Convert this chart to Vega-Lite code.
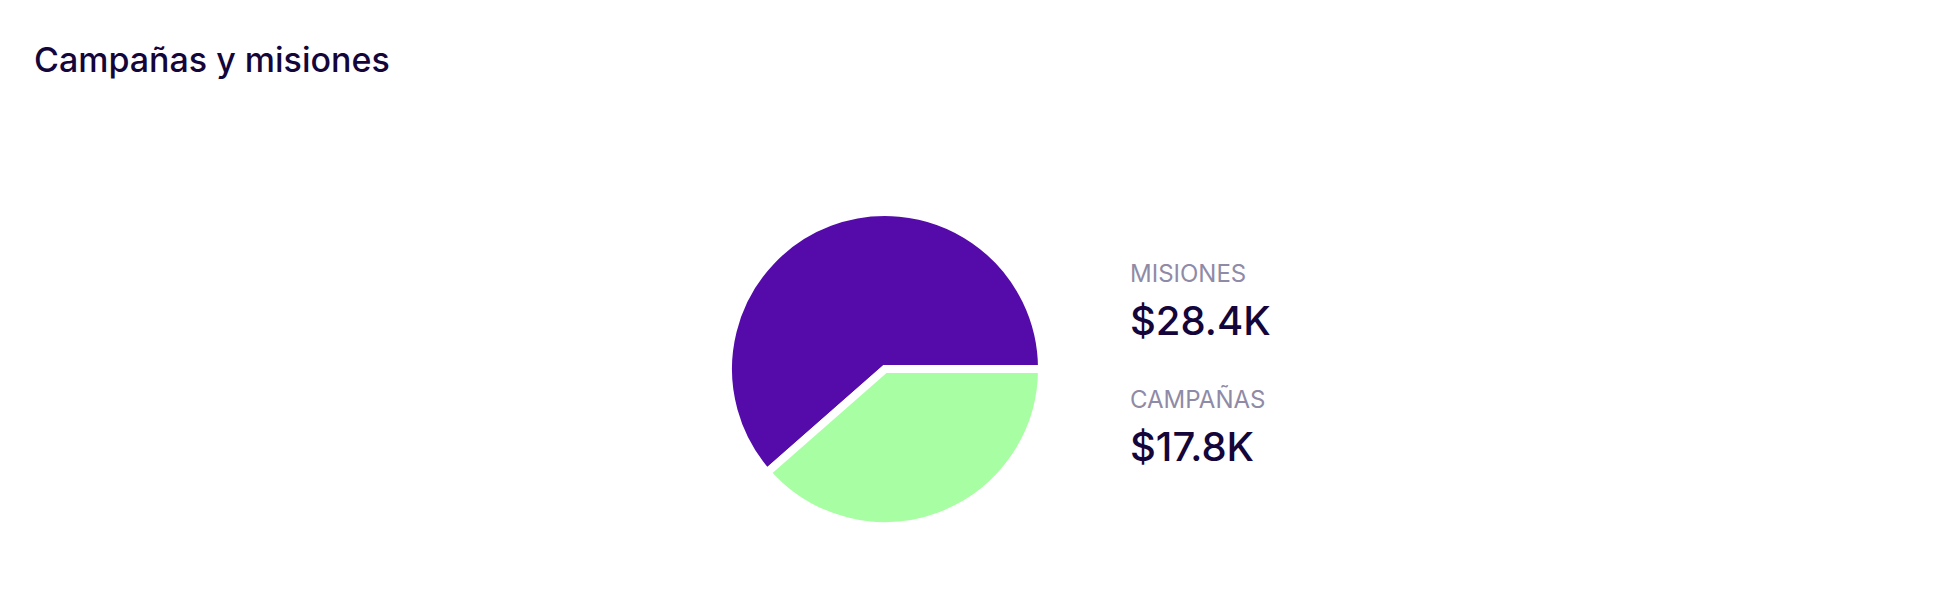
{
  "$schema": "https://vega.github.io/schema/vega-lite/v6.json",
  "background": "white",
  "autosize": {"type": "pad"},
  "padding": {"left": 34, "top": 45, "right": 0, "bottom": 0},
  "title": {
    "text": "Campañas y misiones",
    "anchor": "start",
    "dx": -678,
    "offset": 117,
    "font": "Inter",
    "fontSize": 34,
    "fontWeight": 500,
    "color": "#14063A"
  },
  "data": {
    "values": [
      {"category": "MISIONES", "amount": 28400, "display": "$28.4K"},
      {"category": "CAMPAÑAS", "amount": 17800, "display": "$17.8K"}
    ]
  },
  "spacing": 72,
  "resolve": {"scale": {"x": "independent", "y": "independent"}},
  "hconcat": [
    {
      "width": 314,
      "height": 314,
      "mark": {"type": "arc", "outerRadius": 157, "stroke": "white", "strokeWidth": 8},
      "encoding": {
        "theta": {"field": "amount", "type": "quantitative", "stack": true, "scale": {"range": [1.5708, 7.854]}},
        "color": {
          "field": "category",
          "type": "nominal",
          "scale": {"domain": ["CAMPAÑAS", "MISIONES"], "range": ["#A8FFA3", "#540BAA"]},
          "legend": null
        }
      }
    },
    {
      "width": 200,
      "height": 314,
      "encoding": {
        "x": {"datum": 0, "type": "quantitative", "scale": {"domain": [0, 1]}, "axis": null},
        "y": {"field": "category", "type": "nominal", "scale": {"type": "point", "domain": ["MISIONES", "CAMPAÑAS"], "padding": 0.754}, "axis": null}
      },
      "layer": [
        {
          "mark": {"type": "text", "align": "left", "baseline": "alphabetic", "dy": -24, "font": "Inter", "fontSize": 24, "color": "#8F8AA6"},
          "encoding": {"text": {"field": "category"}}
        },
        {
          "mark": {"type": "text", "align": "left", "baseline": "alphabetic", "dy": 29, "font": "Inter", "fontSize": 40, "fontWeight": 500, "color": "#14063A"},
          "encoding": {"text": {"field": "display"}}
        }
      ]
    }
  ],
  "config": {"view": {"stroke": null}}
}
